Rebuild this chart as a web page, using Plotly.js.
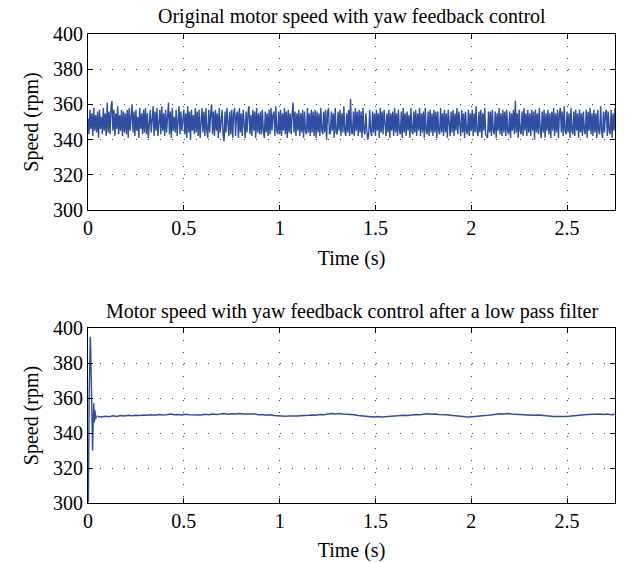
<!DOCTYPE html>
<html><head><meta charset="utf-8">
<script src="https://cdn.plot.ly/plotly-3.0.1.min.js"></script>
<style>html,body{margin:0;padding:0;background:#fff;}</style>
</head><body><div id="chart" style="width:628px;height:562px;"></div>
<script>
// Top panel: raw motor speed (rpm), sampled every 0.005 s from t = 0
const rawDt = 0.005;
const rawSpeed = [
352,343,357,346,355,342,358,345,354,344,356,341,357,346,353,343,358,345,355,342,
361,344,356,343,358,362,345,357,342,355,346,359,343,354,345,357,342,356,344,355,
343,357,341,358,345,354,360,344,356,342,357,345,353,341,358,346,355,343,357,344,
358,343,355,341,354,357,344,353,359,342,356,345,358,342,353,357,343,359,345,355,
342,357,344,355,361,343,356,341,358,345,353,344,357,342,355,359,343,356,345,354,
357,343,355,341,359,344,356,340,357,345,354,343,358,344,356,342,357,341,355,358,
344,356,342,358,345,341,357,344,355,360,343,356,342,357,345,355,341,358,344,354,
357,343,339,356,344,358,345,342,356,343,357,341,355,358,342,354,356,341,358,344,
355,342,357,345,341,356,344,355,359,343,354,342,357,345,356,341,358,344,355,343,
356,343,357,345,341,356,344,355,342,357,343,358,345,354,356,342,359,345,343,356,
343,357,342,355,345,358,343,356,341,357,344,355,343,354,361,344,356,342,355,345,
357,342,355,344,357,341,356,345,343,358,344,355,342,357,344,356,342,357,341,356,
344,355,342,358,345,343,356,344,357,340,355,358,343,344,356,345,355,341,358,344,
343,356,345,357,342,355,344,359,345,342,355,344,357,342,363,344,343,356,342,358,
345,356,342,357,344,356,341,358,345,343,355,345,340,343,357,345,342,356,344,355,
342,357,345,355,341,358,344,356,343,357,345,342,355,344,357,341,355,345,356,342,
358,344,355,342,357,345,343,356,341,358,344,355,342,356,345,354,341,358,345,343,
356,344,357,342,355,345,358,342,355,344,356,341,358,345,343,356,342,357,344,355,
342,357,344,356,341,356,345,343,358,344,355,342,357,344,355,341,357,345,342,356,
344,357,342,355,345,358,343,356,345,342,357,344,355,341,356,345,343,357,342,355,
345,357,342,355,344,359,345,342,356,344,357,341,355,345,358,343,342,341,356,344,
356,342,357,345,343,356,341,355,345,358,343,355,342,357,344,356,342,357,345,343,
356,341,355,345,357,343,362,344,355,341,357,345,343,356,342,358,345,355,342,357,
344,355,342,357,345,356,340,357,344,355,343,358,345,341,356,344,357,341,355,345,
357,343,355,341,356,345,358,342,355,344,357,341,355,358,344,356,342,359,345,343,
356,344,355,341,358,345,343,356,342,357,345,355,341,357,344,355,342,356,345,343,
357,341,356,345,358,343,355,342,357,344,355,341,357,345,343,359,345,341,356,344,
355,357,342,356,345,343,357,341,355,345,358,343,355,344,356,342,357,345,355,343
];

// Bottom panel: filtered speed, start-up transient
const filtTimeStart = [0, 0.002, 0.006, 0.010, 0.012, 0.014, 0.016, 0.019, 0.022, 0.024, 0.027, 0.030, 0.033, 0.036, 0.040, 0.045];
const filtSpeedStart = [300, 302, 360, 392, 395, 388, 378, 352, 334, 330, 345, 357, 346, 353, 348, 350];

// Bottom panel: filtered speed after settling, every 0.02 s from t = 0.05
const filtT0 = 0.05;
const filtDt = 0.02;
const filtSpeed = [
349.4,349.2,349.6,349.3,349.8,349.5,350.0,349.7,350.1,349.8,350.2,350.0,350.3,
350.1,350.4,350.2,350.6,350.3,350.5,350.8,350.4,350.6,350.3,350.7,350.5,350.4,
350.6,350.3,350.7,350.5,350.9,350.6,350.8,351.1,350.7,351.0,350.8,351.2,350.9,
351.0,350.7,350.9,350.5,350.6,350.2,350.4,350.0,349.8,349.9,349.6,349.7,349.5,
349.7,349.9,349.8,350.1,350.3,350.2,350.6,350.5,350.9,351.1,350.8,351.2,350.9,
350.8,350.5,350.4,350.0,349.8,349.5,349.6,349.2,349.4,349.1,349.3,349.5,349.4,
349.7,349.9,350.1,350.0,350.4,350.6,350.5,350.8,351.0,350.7,350.9,350.6,350.7,
350.4,350.2,349.9,349.7,349.5,349.3,349.2,349.5,349.4,349.8,350.0,350.2,350.5,
350.8,351.0,350.9,351.1,350.8,350.9,350.6,350.5,350.3,350.4,350.1,350.3,350.0,
349.8,349.7,349.5,349.4,349.3,349.5,349.6,349.9,350.0,350.2,350.4,350.6,350.8,
350.7,350.9,350.6,350.8,350.5,350.7
];

const xTickVals = [0, 0.5, 1, 1.5, 2, 2.5];
const xTickText = ['0', '0.5', '1', '1.5', '2', '2.5'];
const yTickVals = [300, 320, 340, 360, 380, 400];
const titleTop = 'Original motor speed with yaw feedback control';
const titleBottom = 'Motor speed with yaw feedback control after a low pass filter';
const xLabel = 'Time (s)';
const yLabel = 'Speed (rpm)';

const lineColor = '#2f4e9f';
const FONT = 'Liberation Serif, Times New Roman, serif';
const FS = 20;

const traces = [
  {x0: 0, dx: rawDt, y: rawSpeed, type: 'scatter', mode: 'lines', xaxis: 'x', yaxis: 'y',
   line: {color: lineColor, width: 1.4}, hoverinfo: 'skip'},
  {x: filtTimeStart, y: filtSpeedStart, type: 'scatter', mode: 'lines', xaxis: 'x2', yaxis: 'y2',
   line: {color: lineColor, width: 1.4}, hoverinfo: 'skip'},
  {x0: filtT0, dx: filtDt, y: filtSpeed, type: 'scatter', mode: 'lines', xaxis: 'x2', yaxis: 'y2',
   line: {color: lineColor, width: 1.5}, hoverinfo: 'skip'}
];

function xAxis(anchor) {
  return {
    anchor: anchor, domain: [0, 1], range: [0, 2.75],
    tickvals: xTickVals, ticktext: xTickText,
    ticks: 'inside', ticklen: 5, tickcolor: '#000', tickwidth: 1,
    showline: true, linecolor: '#000', linewidth: 1, mirror: 'ticks',
    showgrid: true, gridcolor: '#444', gridwidth: 1, griddash: '1px,11px',
    zeroline: false, automargin: false,
    tickfont: {family: FONT, size: FS, color: '#000'},
    title: {text: xLabel, font: {family: FONT, size: FS, color: '#000'}, standoff: 12}
  };
}
function yAxis(anchor, domain) {
  return {
    anchor: anchor, domain: domain, range: [300, 400],
    tickvals: yTickVals,
    ticks: 'inside', ticklen: 5, tickcolor: '#000', tickwidth: 1,
    showline: true, linecolor: '#000', linewidth: 1, mirror: 'ticks',
    showgrid: true, gridcolor: '#444', gridwidth: 1, griddash: '1px,11px',
    zeroline: false, automargin: false,
    tickfont: {family: FONT, size: FS, color: '#000'},
    title: {text: yLabel, font: {family: FONT, size: FS, color: '#000'}, standoff: 8}
  };
}

const layout = {
  width: 628, height: 562,
  margin: {l: 88, r: 13, t: 34, b: 59},
  paper_bgcolor: '#fff', plot_bgcolor: '#fff',
  showlegend: false,
  font: {family: FONT, size: FS, color: '#000'},
  xaxis: xAxis('y'),
  yaxis: yAxis('x', [0.6247, 1]),
  xaxis2: xAxis('y2'),
  yaxis2: yAxis('x2', [0, 0.3731]),
  annotations: [
    {text: titleTop, xref: 'paper', yref: 'paper', x: 0.5, y: 1, yshift: 18, xanchor: 'center', yanchor: 'middle',
     showarrow: false, font: {family: FONT, size: FS, color: '#000'}},
    {text: titleBottom, xref: 'paper', yref: 'paper', x: 0.5, y: 0.3731, yshift: 17, xanchor: 'center', yanchor: 'middle',
     showarrow: false, font: {family: FONT, size: FS, color: '#000'}}
  ]
};

Plotly.newPlot('chart', traces, layout, {staticPlot: true, displayModeBar: false});
</script>
</body></html>
